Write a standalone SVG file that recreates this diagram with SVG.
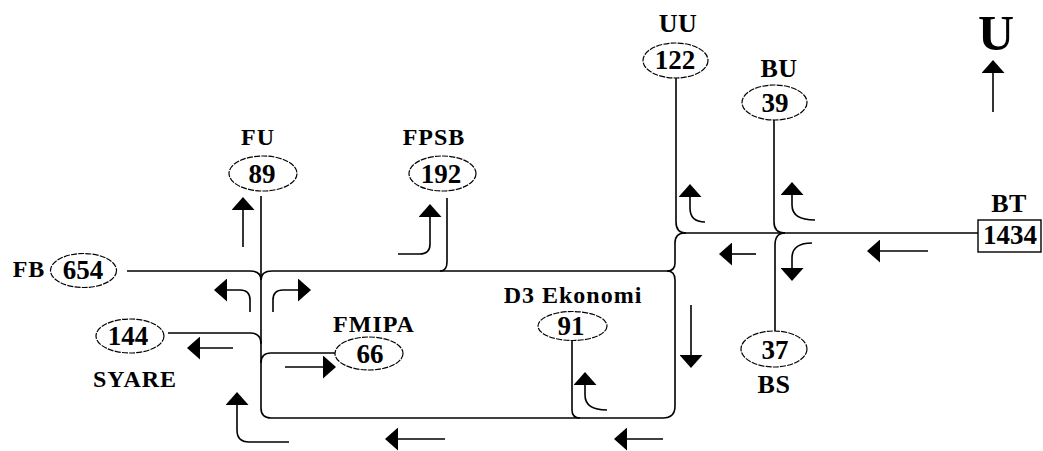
<svg xmlns="http://www.w3.org/2000/svg" width="1043" height="451" viewBox="0 0 1043 451">
<style>
  .ln{fill:none;stroke:#000;stroke-width:1.6}
  .ar{fill:none;stroke:#000;stroke-width:1.6;marker-end:url(#ah)}
  .el{fill:#fff;stroke:#000;stroke-width:1.2;stroke-dasharray:6 1.2}
  .lb{font-family:"Liberation Serif","Times New Roman",serif;font-weight:bold;font-size:24px;letter-spacing:1px;fill:#000;text-anchor:middle}
  .lb2{font-family:"Liberation Serif","Times New Roman",serif;font-weight:bold;font-size:26px;letter-spacing:0.5px;fill:#000;text-anchor:middle}
  .nm{font-family:"Liberation Serif","Times New Roman",serif;font-weight:bold;font-size:27px;fill:#000;text-anchor:middle}
</style>
<defs>
  <marker id="ah" viewBox="0 0 13 23" markerWidth="13" markerHeight="23" refX="0" refY="11.5" orient="auto" markerUnits="userSpaceOnUse">
    <path d="M0,0 L13,11.5 L0,23 Z" fill="#000"/>
  </marker>
</defs>
<rect width="1043" height="451" fill="#fff"/>
<g id="connectors">
  <path class="ln" d="M127,271 L250,271 Q261,271 261,280"/>
  <path class="ln" d="M261,280 Q261,271 272,271 L667,271"/>
  <path class="ln" d="M261,196 L261,408 Q261,418 271,418 L663,418 Q675,418 675,406 L675,280 Q675,271 667,271"/>
  <path class="ln" d="M168,333 L250,333 Q261,333 261,344"/>
  <path class="ln" d="M261,363 Q261,353 271,353 L336,353"/>
  <path class="ln" d="M447,198 L447,262 Q447,271 440,271"/>
  <path class="ln" d="M572,340 L572,410 Q572,418 580,418"/>
  <path class="ln" d="M667,271 Q675,271 675,263 L675,243 Q675,233 685,233"/>
  <path class="ln" d="M676,78 L676,222 Q676,233 686,233"/>
  <path class="ln" d="M685,233 L978,233"/>
  <path class="ln" d="M774,120 L774,222 Q774,233 785,233"/>
  <path class="ln" d="M785,233 Q775,233 775,245 L775,331"/>
  <path class="ar" d="M993,112 L993,73"/>
  <path class="ar" d="M928,251 L880,251"/>
  <path class="ar" d="M756,254 L732,254"/>
  <path class="ar" d="M812,243 Q792,243 792,258 L792,268"/>
  <path class="ar" d="M705,222 Q690,222 690,208 L690,197"/>
  <path class="ar" d="M815,220 Q792,220 792,205 L792,195"/>
  <path class="ar" d="M691,305 L691,355"/>
  <path class="ar" d="M663,439 L627,439"/>
  <path class="ar" d="M445,439 L398,439"/>
  <path class="ar" d="M607,410 Q585,410 585,395 L585,385"/>
  <path class="ar" d="M285,367 L323,367"/>
  <path class="ar" d="M289,442 L249,442 Q237,442 237,430 L237,405"/>
  <path class="ar" d="M233,348 L200,348"/>
  <path class="ar" d="M250,312 L250,300 Q250,290 240,290 L227,290"/>
  <path class="ar" d="M273,312 L273,300 Q273,290 283,290 L298,290"/>
  <path class="ar" d="M243,247 L243,210"/>
  <path class="ar" d="M398,254 L420,254 Q430,254 430,244 L430,217"/>
</g>
<g id="north">
  <text x="996" y="50" font-family="Liberation Serif, Times New Roman, serif" font-weight="bold" font-size="50" text-anchor="middle" fill="#000">U</text>
</g>
<g id="node-FB">
  <text class="lb" x="29" y="277">FB</text>
  <ellipse class="el" cx="83.5" cy="270.5" rx="33" ry="17"/>
  <text class="nm" x="83" y="279">654</text>
</g>
<g id="node-SYARE">
  <ellipse class="el" cx="130" cy="336" rx="34" ry="17"/>
  <text class="nm" x="128" y="345">144</text>
  <text class="lb" x="135" y="387">SYARE</text>
</g>
<g id="node-FU">
  <text class="lb" x="258" y="145">FU</text>
  <ellipse class="el" cx="263" cy="173.5" rx="34" ry="17.5"/>
  <text class="nm" x="262" y="183">89</text>
</g>
<g id="node-FPSB">
  <text class="lb" x="434" y="145">FPSB</text>
  <ellipse class="el" cx="442.5" cy="173.5" rx="33.5" ry="17.5"/>
  <text class="nm" x="441" y="183">192</text>
</g>
<g id="node-FMIPA">
  <text class="lb" x="374" y="332">FMIPA</text>
  <ellipse class="el" cx="369" cy="353.5" rx="34" ry="16.5"/>
  <text class="nm" x="370" y="363">66</text>
</g>
<g id="node-D3">
  <text class="lb" x="573" y="303">D3 Ekonomi</text>
  <ellipse class="el" cx="572.5" cy="326" rx="34.5" ry="14.5"/>
  <text class="nm" x="571" y="335">91</text>
</g>
<g id="node-UU">
  <text class="lb2" x="678" y="32">UU</text>
  <ellipse class="el" cx="675.5" cy="60.5" rx="32.5" ry="17.5"/>
  <text class="nm" x="675" y="69">122</text>
</g>
<g id="node-BU">
  <text class="lb2" x="779" y="77">BU</text>
  <ellipse class="el" cx="774.5" cy="102.5" rx="32.5" ry="17.5"/>
  <text class="nm" x="775" y="112">39</text>
</g>
<g id="node-BS">
  <ellipse class="el" cx="774" cy="349" rx="33" ry="18"/>
  <text class="nm" x="775" y="359">37</text>
  <text class="lb2" x="774" y="393">BS</text>
</g>
<g id="node-BT">
  <text class="lb2" x="1009" y="212">BT</text>
  <rect x="978" y="220" width="63" height="32" fill="#fff" stroke="#000" stroke-width="1.4"/>
  <text class="nm" x="1010" y="244">1434</text>
</g>
</svg>
